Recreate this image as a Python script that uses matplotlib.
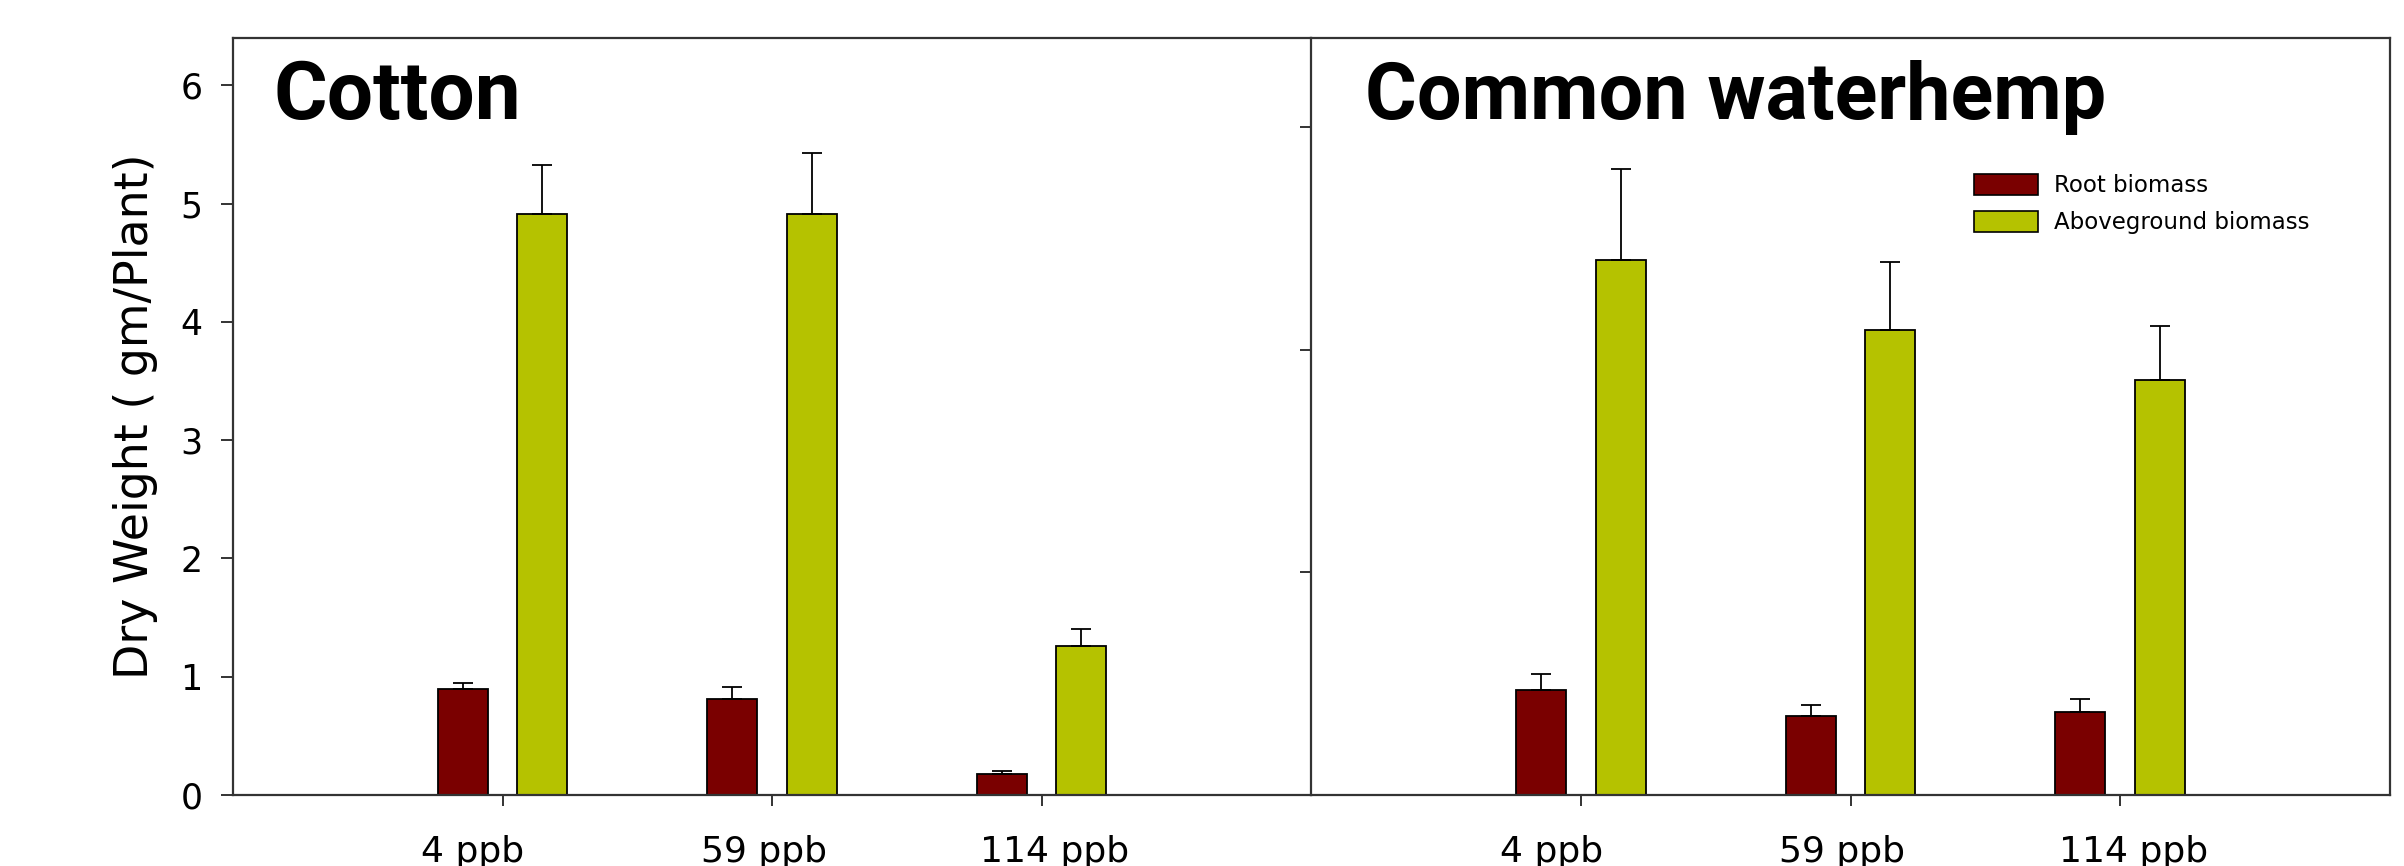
import matplotlib
matplotlib.use("Agg")
import matplotlib.pyplot as plt
import numpy as np
from matplotlib.patches import Patch

# ---- data ----
categories = ['4 ppb', '59 ppb', '114 ppb']
label_pos = [-0.11, 0.97, 2.05]          # where the category labels sit

cotton_root = [0.90, 0.81, 0.18]
cotton_root_err = [0.05, 0.10, 0.02]
cotton_above = [4.91, 4.91, 1.26]
cotton_above_err = [0.42, 0.52, 0.14]

wh_root = [0.94, 0.71, 0.75]
wh_root_err = [0.15, 0.10, 0.11]
wh_above = [4.81, 4.18, 3.73]
wh_above_err = [0.81, 0.61, 0.48]

left_yticks = [0, 1, 2, 3, 4, 5, 6]
right_yticks = [2, 4, 6]

root_color = '#7a0000'
above_color = '#b5c200'
spine_color = '#333333'

W, H = 2404, 866
fig = plt.figure(figsize=(W / 100, H / 100), dpi=100)
bottom = (H - 795) / H
height = (795 - 38) / H
ax1 = fig.add_axes([233 / W, bottom, (1311 - 233) / W, height])
ax2 = fig.add_axes([1311 / W, bottom, (2390 - 1311) / W, height])

x = np.arange(len(categories))
bw = 0.185
off = 0.148


def draw(ax, root, root_err, above, above_err):
    ax.bar(x - off, root, bw, color=root_color, edgecolor='black', linewidth=1.3, zorder=2,
           label='Root biomass')
    ax.bar(x + off, above, bw, color=above_color, edgecolor='black', linewidth=1.3, zorder=2,
           label='Aboveground biomass')
    ax.errorbar(x - off, root, yerr=[np.zeros(len(root)), root_err], fmt='none',
                ecolor='black', elinewidth=1.3, capsize=7.5, capthick=1.3, zorder=3)
    ax.errorbar(x + off, above, yerr=[np.zeros(len(above)), above_err], fmt='none',
                ecolor='black', elinewidth=1.3, capsize=7.5, capthick=1.3, zorder=3)
    ax.set_xlim(-1, 3)
    ax.set_xticks(x)
    ax.set_xticklabels([])
    ax.tick_params(axis='x', which='major', direction='out', length=8, width=1.4, color=spine_color)
    ax.set_xticks(label_pos, minor=True)
    ax.set_xticklabels(categories, minor=True)
    ax.tick_params(axis='x', which='minor', length=0, pad=29, labelsize=26)
    for s in ax.spines.values():
        s.set_color(spine_color)
        s.set_linewidth(1.6)


draw(ax1, cotton_root, cotton_root_err, cotton_above, cotton_above_err)
draw(ax2, wh_root, wh_root_err, wh_above, wh_above_err)

ax1.set_ylim(0, 6.40)
ax1.set_yticks(left_yticks)
ax1.tick_params(axis='y', direction='out', length=9, width=1.4, color=spine_color,
                labelsize=25, pad=13)
ax1.spines['right'].set_visible(False)
ax1.set_ylabel('Dry Weight ( gm/Plant)', fontsize=33, labelpad=16)

ax2.set_ylim(0, 6.80)
ax2.set_yticks(right_yticks)
ax2.set_yticklabels([])
ax2.tick_params(axis='y', direction='out', length=8, width=1.4, color=spine_color)

ax1.text(0.038, 0.893, 'Cotton', transform=ax1.transAxes, fontsize=59, fontweight='bold',
         fontfamily='Roboto', ha='left', va='baseline')
ax2.text(0.050, 0.893, 'Common waterhemp', transform=ax2.transAxes, fontsize=57,
         fontweight='bold', fontfamily='Roboto', ha='left', va='baseline')

handles = [Patch(facecolor=root_color, edgecolor='black', linewidth=1.2),
           Patch(facecolor=above_color, edgecolor='black', linewidth=1.2)]
ax2.legend(handles, ['Root biomass', 'Aboveground biomass'], loc='upper left',
           bbox_to_anchor=((1965 - 1311) / 1079, (795 - 165) / 757), frameon=False,
           fontsize=16.5, handlelength=2.8, handleheight=1.0, labelspacing=0.6,
           handletextpad=0.7, borderaxespad=0)

fig.savefig('out.png', dpi=100)
